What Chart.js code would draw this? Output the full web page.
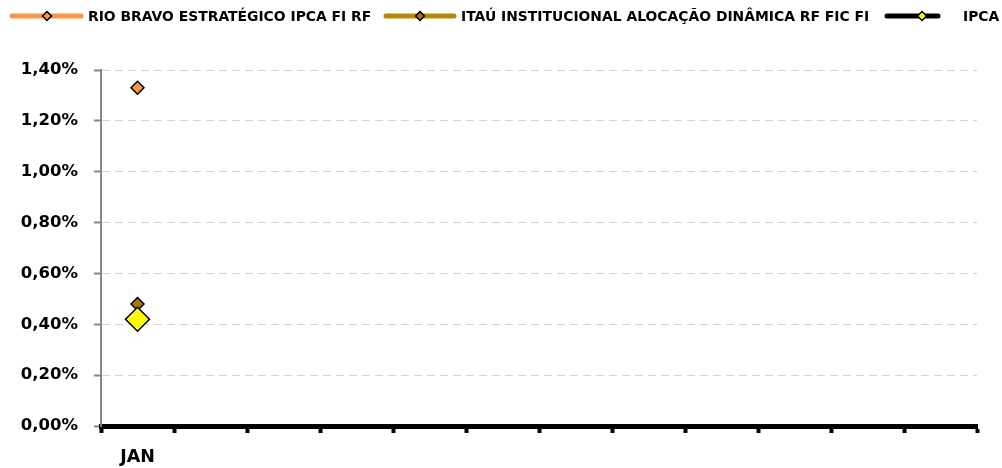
<!DOCTYPE html>
<html><head><meta charset="utf-8">
<script src="https://cdn.jsdelivr.net/npm/chart.js@4.4.1/dist/chart.umd.min.js"></script>
<style>html,body{margin:0;padding:0;background:#fff}canvas{display:block}</style>
</head><body>
<canvas id="c" width="1002" height="468"></canvas>
<script>
const months = ['JAN','','','','','','','','','','',''];
const seriesNames = ['RIO BRAVO ESTRATÉGICO IPCA FI RF','ITAÚ INSTITUCIONAL ALOCAÇÃO DINÂMICA RF FIC FI','IPCA'];
const rioBravo = [1.33,null,null,null,null,null,null,null,null,null,null,null];
const itau = [0.48,null,null,null,null,null,null,null,null,null,null,null];
const ipca = [0.42,null,null,null,null,null,null,null,null,null,null,null];
const yTicks = [0,0.2,0.4,0.6,0.8,1.0,1.2,1.4];

const FONT = 'DejaVu Sans';

const legendPlugin = {
  id: 'topLegend',
  afterDraw(chart, args, opts) {
    const ctx = chart.ctx;
    ctx.save();
    ctx.font = 'bold 13.9px "' + FONT + '"';
    ctx.textBaseline = 'middle';
    ctx.textAlign = 'left';
    const y = 16;
    chart.data.datasets.forEach((ds, i) => {
      const it = opts.items[i];
      ctx.strokeStyle = ds.borderColor;
      ctx.lineWidth = 5;
      ctx.lineCap = 'round';
      ctx.setLineDash([]);
      ctx.beginPath();
      ctx.moveTo(it.x0 + 2, y);
      ctx.lineTo(it.x1 - 2, y);
      ctx.stroke();
      const r = 4.5;
      ctx.beginPath();
      ctx.moveTo(it.d, y - r); ctx.lineTo(it.d + r, y); ctx.lineTo(it.d, y + r); ctx.lineTo(it.d - r, y); ctx.closePath();
      ctx.fillStyle = ds.pointBackgroundColor;
      ctx.fill();
      ctx.lineWidth = 1.5;
      ctx.strokeStyle = '#000';
      ctx.lineCap = 'butt';
      ctx.stroke();
      ctx.fillStyle = '#000';
      ctx.fillText(ds.label, it.t, y + 1);
    });
    ctx.restore();
  }
};

new Chart(document.getElementById('c'), {
  type: 'line',
  data: {
    labels: months,
    datasets: [
      { label: seriesNames[0], data: rioBravo, borderColor: '#f79646', backgroundColor: '#f79646', borderWidth: 4,
        pointStyle: 'rectRot', pointRadius: 6.5, pointBackgroundColor: '#f79646', pointBorderColor: '#000', pointBorderWidth: 1.5, order: 2 },
      { label: seriesNames[1], data: itau, borderColor: '#b5870a', backgroundColor: '#b5870a', borderWidth: 4,
        pointStyle: 'rectRot', pointRadius: 6.5, pointBackgroundColor: '#a8780a', pointBorderColor: '#000', pointBorderWidth: 1.5, order: 1 },
      { label: seriesNames[2], data: ipca, borderColor: '#000', backgroundColor: '#000', borderWidth: 4,
        pointStyle: 'rectRot', pointRadius: 12, pointBackgroundColor: '#ffff00', pointBorderColor: '#000', pointBorderWidth: 1.5, order: 0 }
    ]
  },
  options: {
    responsive: false,
    animation: false,
    events: [],
    layout: { padding: { top: 70, right: 25, left: 0, bottom: 0 } },
    plugins: {
      legend: { display: false },
      tooltip: { enabled: false },
      topLegend: { items: [ {x0: 10, x1: 83, d: 47, t: 88}, {x0: 384, x1: 456, d: 420, t: 461}, {x0: 885, x1: 940, d: 922, t: 963} ] }
    },
    scales: {
      x: {
        offset: true,
        grid: { offset: true, drawOnChartArea: false, drawTicks: true, tickLength: 7, tickWidth: 4, tickColor: '#000' },
        border: { color: '#000', width: 5 },
        ticks: { font: { family: FONT, weight: 'bold', size: 17.5 }, color: '#000', padding: 14, autoSkip: false, maxRotation: 0 },
        afterFit(s) { s.height = 42; }
      },
      y: {
        min: 0, max: 1.4,
        afterBuildTicks(scale) { scale.ticks = yTicks.map(v => ({ value: v })); },
        ticks: { font: { family: FONT, weight: 'bold', size: 16.5 }, color: '#000', padding: 16,
          callback: v => v.toFixed(2).replace('.', ',') + '%' },
        grid: { color: '#d4d4d4', lineWidth: 1, tickColor: '#868686', tickLength: 7, tickWidth: 2, tickBorderDash: [] },
        border: { color: '#868686', width: 2, dash: [8, 5] },
        afterFit(s) { s.width = 101; }
      }
    }
  },
  plugins: [legendPlugin]
});
</script>
</body></html>
